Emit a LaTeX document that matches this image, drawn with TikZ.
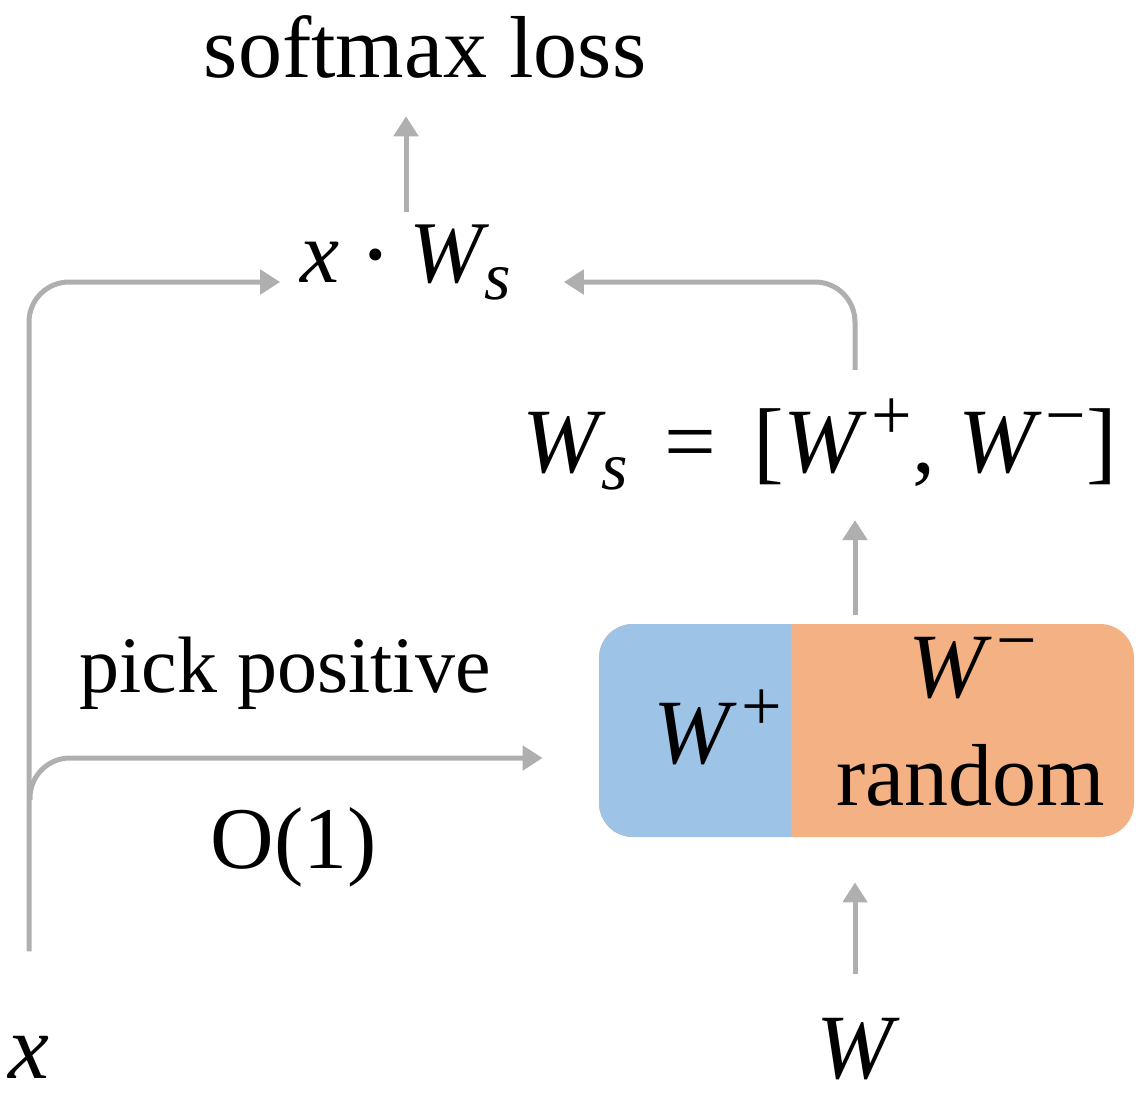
\documentclass[tikz,border=0pt]{standalone}
\usepackage{fontspec}
\setmainfont{Liberation Serif}
\usetikzlibrary{arrows.meta, positioning}

\definecolor{wpos}{HTML}{9DC3E6}
\definecolor{wneg}{HTML}{F4B183}
\definecolor{wire}{HTML}{AFAFAF}

% raised / lowered indices and the product dot
\newcommand{\supsym}[1]{\hspace{0.12em}\raisebox{16.5pt}{\fontsize{36}{36}\selectfont\upshape #1}}
\newcommand{\subsym}[1]{\hspace{0.02em}\raisebox{-8.5pt}{\fontsize{34}{34}\selectfont\itshape #1}}
\newcommand{\dotop}{\hspace{0.3em}\raisebox{5.5pt}{\fontsize{25}{25}\selectfont\textbullet}\hspace{0.3em}}

\begin{document}
\begin{tikzpicture} [
        x = 0.5pt, y = -0.5pt,
        edge/.style = {draw=wire, line width=2.5pt, -{Triangle[length=10pt, width=12pt]}},
        txt/.style = {inner sep=0pt, anchor=base, font=\fontsize{44}{50}\selectfont},
        mth/.style = {txt, font=\fontsize{46}{52}\selectfont\itshape},
        wbox/.style = {rectangle, rounded corners=17pt, fill=wneg, inner sep=0pt,
            minimum width=267.5pt, minimum height=106.5pt,
            path picture={\fill[wpos, sharp corners] (path picture bounding box.south west)
                rectangle ([xshift=96pt]path picture bounding box.north west);}}
    ]

    \useasboundingbox (0,0) rectangle (1141,1109);

    \node[txt]  (loss) at (425,77)   {softmax loss};
    \node[mth, font=\fontsize{44}{50}\selectfont\itshape] (prod) at (406,282) {x\dotop W\subsym{s}};
    \node[mth]  (ws)   at (820,472)  {W\subsym{s}\hspace{0.4em}\textup{=}\hspace{0.4em}\textup{[}W\supsym{+}\textup{,}\hspace{0.25em}W\supsym{−}\textup{]}};
    \node[wbox] (box)  at (866.5,730.5) {};
    \node[mth]  (wp)   at (718,763)  {W\supsym{+}};
    \node[mth]  (wn)   at (973,697)  {W\supsym{−}};
    \node[txt]  (rnd)  at (971,805)  {random};
    \node[mth]  (xin)  at (29,1078)  {x};
    \node[mth]  (win)  at (855,1078) {W};
    \node[txt, font=\fontsize{40}{46}\selectfont] (pick) at (285,692) {pick positive};
    \node[txt]  (cost) at (294,868)  {O(1)};
    \coordinate (fork) at (30,800);

    \draw[edge, shorten <=6pt, shorten >=19pt] (prod.north) -- (prod.north |- loss.south);
    \draw[edge, rounded corners=20pt, shorten <=42pt, shorten >=10pt] (xin.north) |- (prod.base west);
    \draw[edge, rounded corners=20pt, shorten <=14pt, shorten >=26pt] (win.north |- ws.north) |- (prod.base east);
    \draw[edge, shorten <=4.5pt, shorten >=15pt] (win.north |- box.north) -- (win.north |- ws.south);
    \draw[edge, shorten <=21.5pt, shorten >=22.5pt] (win.north) -- (win.north |- box.south);
    \draw[edge, rounded corners=20pt, shorten >=28pt] (fork) |- (box.west |- 0,758);

\end{tikzpicture}
\end{document}
